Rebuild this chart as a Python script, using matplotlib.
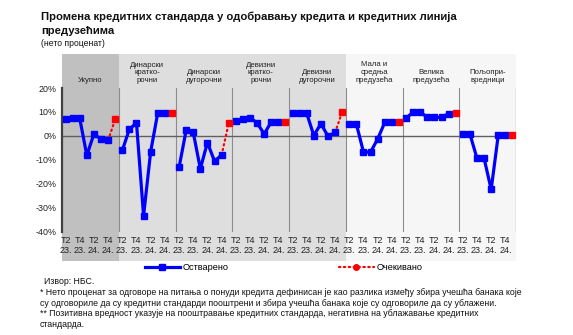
import numpy as np
import matplotlib
matplotlib.use("Agg")
import matplotlib.pyplot as plt
from matplotlib.patches import Rectangle
from matplotlib.lines import Line2D
from matplotlib.transforms import blended_transform_factory

plt.rcParams['font.family'] = ['Liberation Sans', 'DejaVu Sans']

# podaci procitani sa grafika (neto procenat)
paneli = ["Укупно", "Динарски\nкратко-\nрочни", "Динарски\nдугорочни",
          "Девизни\nкратко-\nрочни", "Девизни\nдугорочни",
          "Мала и\nсредња\nпредузећа", "Велика\nпредузећа", "Пољопри-\nвредници"]
ostvareno = [
    [7.0, 7.3, 7.3, -8.2, 0.8, -1.4, -1.8],
    [-6.1, 2.8, 5.4, -33.4, -6.6, 9.6, 9.7],
    [-13.2, 2.3, 1.5, -13.8, -2.8, -10.6, -8.0],
    [6.2, 6.9, 7.6, 5.4, 0.8, 5.8, 5.8],
    [9.4, 9.4, 9.4, 0.1, 5.1, -0.2, 1.4],
    [4.9, 4.9, -6.8, -6.8, -1.3, 5.6, 5.6],
    [7.3, 10.0, 10.0, 7.7, 7.7, 7.7, 9.3],
    [0.8, 0.8, -9.4, -9.4, -22.4, 0.3, 0.3],
]
ocekivano = [6.9, 9.7, 5.2, 5.8, 10.0, 5.6, 9.4, 0.3]
kvartali = ["T2\n23.", "T4\n23.", "T2\n24.", "T4\n24."]
boje_pozadine = ["#c0c0c0", "#dedede", "#dedede", "#dedede", "#dedede",
                 "#f6f6f6", "#f6f6f6", "#f6f6f6"]

fig = plt.figure(figsize=(5.73, 3.35), dpi=100)
ax = fig.add_axes([62/573, 1-231.5/335, 454/573, 143.5/335])
ax.patch.set_visible(False)

n = 8
tr = blended_transform_factory(ax.transData, ax.transAxes)
for p in range(len(paneli)):
    x0 = p*n
    ax.add_patch(Rectangle((x0-0.5, -0.206), n, 1.446, transform=tr,
                           facecolor=boje_pozadine[p], edgecolor='none',
                           clip_on=False, zorder=0))
    ax.text(x0+3.5, 1.03, paneli[p], transform=tr, ha='center', va='bottom',
            fontsize=5.6, linespacing=1.1, color='#222222')
    xs = np.arange(x0, x0+7)
    ys = ostvareno[p]
    ax.plot([x0+6, x0+7], [ys[-1], ocekivano[p]], color='#ff0000', ls=(0, (0.6, 1.6)),
            lw=1.6, dash_capstyle='round', zorder=3)
    ax.plot(xs, ys, color='#0000ff', lw=2.3, marker='s', ms=4.5, zorder=4)
    ax.plot([x0+7], [ocekivano[p]], color='#ff0000', marker='s', ms=4.5, ls='none', zorder=5)
    if p > 0:
        ax.axvline(x0-0.5, color='#8c8c8c', lw=0.8, zorder=1)
ax.axvline(n*len(paneli)-0.5, color='#aaaaaa', lw=1.0, zorder=1)
ax.axhline(0, color='#606060', lw=1.0, zorder=2)

ax.set_xlim(-0.5, n*len(paneli)-0.5)
ax.set_ylim(-40, 20)
ax.set_yticks(np.arange(-40, 21, 10))
ax.set_yticklabels([f"{v}%" for v in range(-40, 21, 10)])
pos = [p*n + k for p in range(len(paneli)) for k in (0, 2, 4, 6)]
ax.set_xticks(pos)
ax.set_xticklabels(kvartali*len(paneli), linespacing=1.05)
ax.tick_params(axis='y', length=0, pad=4, labelsize=6.4, labelcolor='#222222')
ax.tick_params(axis='x', length=0, pad=3.5, labelsize=6.5, labelcolor='#222222')
for s in ['top', 'right', 'bottom']:
    ax.spines[s].set_visible(False)
ax.spines['left'].set_color('#404040')
ax.spines['left'].set_linewidth(1.6)

h1 = Line2D([], [], color='#0000ff', lw=2.3, marker='s', ms=4)
h2 = Line2D([], [], color='#ff0000', lw=1.6, ls=(0, (0.6, 1.6)), marker='o', ms=4,
            dash_capstyle='round')
fig.legend([h1, h2], ["Остварено", "Очекивано"], loc='center',
           bbox_to_anchor=(284/573, 1-268/335), ncol=2, frameon=False,
           fontsize=6.6, handlelength=3.8, handletextpad=0.35, columnspacing=12)

fig.text(41/573, 1-17/335, "Промена кредитних стандарда у одобравању кредита и кредитних линија",
         fontsize=8.1, fontweight='bold', va='center', color='#111111')
fig.text(41/573, 1-30.5/335, "предузећима", fontsize=8.1, fontweight='bold',
         va='center', color='#111111')
fig.text(41/573, 1-43.5/335, "(нето проценат)", fontsize=6.2, va='center', color='#111111')

fus = ["* Нето проценат за одговоре на питања о понуди кредита дефинисан је као разлика између збира учешћа банака које",
       "су одговориле да су кредитни стандарди пооштрени и збира учешћа банака које су одговориле да су ублажени.",
       "** Позитивна вредност указује на пооштравање кредитних стандарда, негативна на ублажавање кредитних",
       "стандарда."]
fig.text(44/573, 1-282/335, "Извор: НБС.", fontsize=6.3, va='center', color='#111111')
for i, t in enumerate(fus):
    fig.text(39.5/573, 1-(292.5+i*10.6)/335, t, fontsize=6.3, va='center', color='#111111')

fig.savefig("out.png", dpi=100)
